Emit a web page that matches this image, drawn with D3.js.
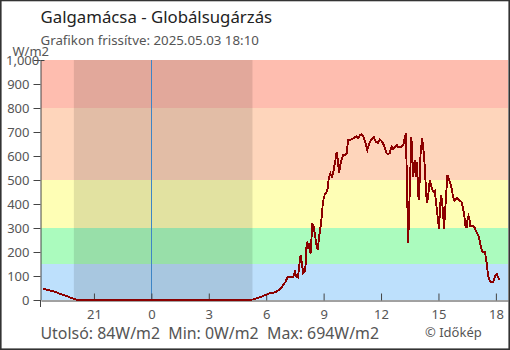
<!DOCTYPE html>
<html><head><meta charset="utf-8">
<script src="https://cdn.jsdelivr.net/npm/d3@7"></script>
<style>
html,body{margin:0;padding:0;background:#fff;}
svg{display:block;font-family:"Noto Sans",sans-serif;}
</style>
</head><body>
<svg id="chart" width="510" height="350"></svg>
<script>
// ---- data ----
const titleText = "Galgamácsa - Globálsugárzás";
const subtitleText = "Grafikon frissítve: 2025.05.03 18:10";
const unitLabel = "W/m2";
const statsText = "Utolsó: 84W/m2  Min: 0W/m2  Max: 694W/m2";
const creditText = "© Időkép";

// measurement times (starting on the previous day)
const times = [
 "18:20","18:30","18:40","18:50","19:00","19:10","19:20","19:30","19:40","19:50","20:00","20:10",
 "05:10","05:20","05:30","05:40","05:50","06:00","06:10","06:20","06:30","06:40","06:50","07:00","07:03","07:06",
 "07:25","07:30","07:35","07:40","07:43","07:48","07:52","07:56","08:01","08:04","08:07","08:12","08:15","08:19",
 "08:22","08:25","08:29","08:33","08:38","08:42","08:45","08:49","08:53","08:58","09:03","09:09","09:13","09:16",
 "09:21","09:26","09:30","09:33","09:37","09:41","09:44","09:47","09:49","09:51","09:56","10:01","10:07","10:12",
 "10:17","10:28","10:38","10:43","10:48","10:54","10:59","11:04","11:09","11:14","11:17","11:22","11:27","11:33",
 "11:38","11:43","11:51","11:56","12:01","12:06","12:11","12:16","12:21","12:27","12:33","12:38","12:43","12:49",
 "12:54","12:59","13:04","13:10","13:15","13:18","13:25","13:27","13:35","13:41","13:46","13:49","13:53","13:56",
 "13:58","14:01","14:04","14:09","14:12","14:15","14:18","14:21","14:24","14:28","14:33","14:38","14:41","14:46",
 "14:49","14:52","14:56","14:59","15:02","15:05","15:08","15:11","15:14","15:18","15:20","15:23","15:26","15:28",
 "15:32","15:38","15:41","15:44","15:47","15:50","15:54","15:58","16:03","16:07","16:12","16:17","16:21","16:24",
 "16:28","16:31","16:34","16:37","16:40","16:45","16:49","16:53","16:57","17:01","17:06","17:10","17:14","17:18",
 "17:25","17:28","17:31","17:35","17:39","17:44","17:52","17:55","17:59","18:03","18:06","18:09","18:10"
];
const values = [
 47,44,40,37,33,28,23,19,14,8,3,0,
 0,3,7,11,17,22,28,29,33,42,56,75,83,94,
 97,118,97,94,139,187,153,111,118,153,243,215,236,194,
 257,319,305,271,225,208,257,292,333,410,437,451,465,507,
 528,514,528,556,583,618,590,549,528,556,583,604,604,611,
 667,669,678,683,674,687,692,681,664,639,625,646,664,674,
 678,660,655,669,664,653,639,614,607,611,639,628,637,646,
 637,639,639,646,681,694,239,319,681,514,583,514,576,451,
 417,493,611,674,639,597,535,451,403,437,500,472,458,451,
 455,410,368,326,295,389,437,417,368,295,361,410,479,521,
 507,483,465,444,424,414,420,424,417,414,410,382,354,313,
 299,333,350,336,308,306,308,303,289,278,264,243,215,201,
 201,183,155,108,86,76,76,90,104,108,97,90,84
];

const xDomainTimes = ["18:14","18:38"];   // days: previous, current
const xDomainDays = [-1, 0];
const nightTimes = ["19:57","05:17"];     // days: previous, current
const nightDays = [-1, 0];
const xTickHours = [-3,0,3,6,9,12,15,18];
const xTickLabels = ["21","0","3","6","9","12","15","18"];
const yTicks = [0,100,200,300,400,500,600,700,800,900,1000];
const bandLimits = [0,150,300,500,800,1000];
const bandColors = ["#bde0fc","#abfbbe","#fefeb5","#fed5bb","#febdaf"];

// ---- helpers ----
function toHours(s, day){
  const [h,m] = s.split(":").map(Number);
  return h + m/60 + 24*day;
}
function parseSeq(arr, startDay){
  let day = startDay, prev = -1;
  return arr.map(s => {
    const v = toHours(s, 0);
    if (prev >= 0 && v < prev) day++;
    prev = v;
    return v + 24*day;
  });
}
const tHours = parseSeq(times, -1);
const data = tHours.map((t,i)=>({t, v: values[i]}));
const xDom = xDomainTimes.map((s,i)=>toHours(s, xDomainDays[i]));
const night = nightTimes.map((s,i)=>toHours(s, nightDays[i]));

const svg = d3.select("#chart");
const W = 510, H = 350;
const plot = {left:41, right:508, top:60, bottom:300};

const x = d3.scaleLinear().domain(xDom).range([plot.left, plot.right]);
const y = d3.scaleLinear().domain([0,1000]).range([plot.bottom, plot.top]);

// bands
svg.append("g").selectAll("rect").data(bandColors).join("rect")
  .attr("x", plot.left).attr("width", plot.right-plot.left)
  .attr("y", (d,i)=>y(bandLimits[i+1]))
  .attr("height", (d,i)=>y(bandLimits[i]) - y(bandLimits[i+1]))
  .attr("fill", d=>d).attr("shape-rendering","crispEdges");

// night shading
svg.append("rect")
  .attr("x", x(night[0])).attr("width", x(night[1]) - x(night[0]))
  .attr("y", y(1000)).attr("height", y(0)-y(1000))
  .attr("fill", "rgba(0,0,0,0.11)");

// midnight line
svg.append("line")
  .attr("x1", Math.round(x(0))+0.5).attr("x2", Math.round(x(0))+0.5)
  .attr("y1", y(1000)).attr("y2", y(0)+1)
  .attr("stroke", "#3d85c6").attr("stroke-width",1);

// axes
const yAxis = d3.axisLeft(y).tickValues(yTicks).tickSize(7).tickSizeOuter(0).tickPadding(4);
const gy = svg.append("g").attr("transform","translate(40.5,0)").call(yAxis);
gy.select(".domain").attr("stroke","#444");
gy.selectAll(".tick line").attr("stroke","#444");
gy.selectAll(".tick text").attr("fill","#555").style("font-size","13px").style("font-family","'Noto Sans',sans-serif");
gy.selectAll(".tick").filter(d=>d===1000).select("text")
  .attr("text-anchor","start").attr("x",-34.5);
gy.append("line").attr("x1",0).attr("x2",0).attr("y1",y(0)).attr("y2",y(0)+7).attr("stroke","#444");
gy.append("line").attr("x1",0).attr("x2",4).attr("y1",y(1000)+0.5).attr("y2",y(1000)+0.5).attr("stroke","#444");

const xAxis = d3.axisBottom(x).tickValues(xTickHours)
  .tickFormat((d,i)=>xTickLabels[i]).tickSize(-7).tickSizeOuter(0).tickPadding(9.5);
const gx = svg.append("g").attr("transform",`translate(0,${y(0)+0.5})`).call(xAxis);
gx.select(".domain").attr("stroke","#444");
gx.selectAll(".tick line").attr("stroke","#444");
gx.selectAll(".tick text").attr("fill","#555").style("font-size","13px").style("font-family","'Noto Sans',sans-serif");

// data line
const line = d3.line().x(d=>x(d.t)).y(d=>y(d.v));
svg.append("path").datum(data)
  .attr("d", line).attr("fill","none")
  .attr("stroke","#8b0000").attr("stroke-width",1.9)
  .attr("stroke-linejoin","miter")
  .attr("shape-rendering","crispEdges");

// texts
svg.append("text").attr("x",40.5).attr("y",23).attr("fill","#222")
  .style("font-size","16.8px").text(titleText);
svg.append("text").attr("x",40.5).attr("y",44.5).attr("fill","#555")
  .style("font-size","13.3px").text(subtitleText);
svg.append("text").attr("x",12.5).attr("y",55.5).attr("fill","#555")
  .style("font-size","13px").text(unitLabel);
svg.append("text").attr("x",40.5).attr("y",339).attr("fill","#555")
  .style("font-size","15.9px").style("white-space","pre").attr("xml:space","preserve").text(statsText);
svg.append("text").attr("x",425).attr("y",336.5).attr("fill","#555")
  .style("font-size","13px").text(creditText);

// frame
svg.append("rect").attr("x",0.8).attr("y",0.5).attr("width",W-1.6).attr("height",H-1.3)
  .attr("fill","none").attr("stroke","#333").attr("stroke-width",1.6);
</script>
</body></html>
